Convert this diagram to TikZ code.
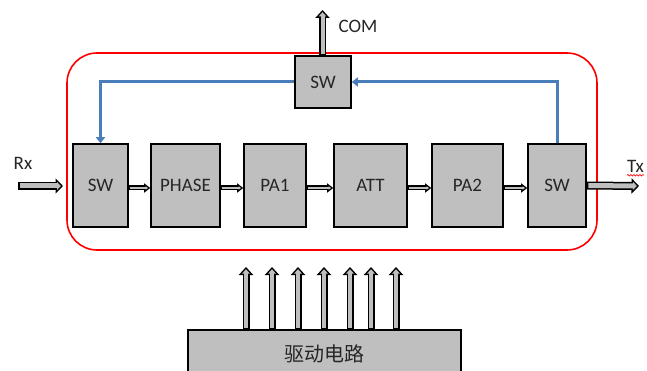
\documentclass[tikz,border=0pt]{standalone}
\usepackage{fontspec}
\setmainfont{Carlito}
\newfontfamily\cjk{Noto Sans CJK SC}
\usetikzlibrary{arrows.meta,decorations.pathmorphing}
\definecolor{boxgray}{HTML}{BFBFBF}
\definecolor{lineblue}{HTML}{4A7EBB}
\definecolor{textgray}{HTML}{262626}
\begin{document}
\begin{tikzpicture}[x=1pt,y=-1pt,
  font=\fontsize{19}{22}\selectfont,
  blk/.style={draw=black, line width=1.6pt, fill=boxgray, inner sep=0pt, text=textgray},
  lbl/.style={text=textgray, inner sep=0pt},
  harrow/.style n args={7}{draw=black, line width=#1, -{Triangle[length=#2, width=#3]},
    postaction={draw=boxgray, line width=#4, shorten <=1.5pt, shorten >=#7,
      -{Triangle[length=#5, width=#6]}}},
  bigarrow/.style={harrow={8pt}{7.5pt}{15pt}{5pt}{3.9pt}{7.8pt}{2.1pt}},
  smallarrow/.style={harrow={5pt}{6pt}{9pt}{1.8pt}{2.2pt}{3.3pt}{2.3pt}},
  midarrow/.style={harrow={7pt}{8pt}{14pt}{4pt}{4.3pt}{7.5pt}{2.2pt}},
  bluearrow/.style={draw=lineblue, line width=3pt, -{Triangle[length=6pt, width=9pt]}},
  redframe/.style={draw=red, line width=1.6pt, rounded corners=30pt}
]
\useasboundingbox (0,0) rectangle (647,371);

% red frame
\draw[redframe] (67,53) rectangle (597,250);

% blocks
\node[blk, minimum width=56pt, minimum height=52pt] (top) at (323,82) {SW};
\node[blk, minimum width=55pt, minimum height=83pt] (sw1) at (100.5,185.5) {SW};
\node[blk, minimum width=69pt, minimum height=83pt] (phase) at (185.5,185.5) {PHASE};
\node[blk, minimum width=62pt, minimum height=83pt] (pa1) at (275,185.5) {PA1};
\node[blk, minimum width=73pt, minimum height=83pt] (att) at (370.5,185.5) {ATT};
\node[blk, minimum width=71pt, minimum height=83pt] (pa2) at (467.5,185.5) {PA2};
\node[blk, minimum width=58pt, minimum height=83pt] (sw2) at (557,185.5) {SW};
\node[blk, minimum width=273pt, minimum height=52pt, anchor=north] (drv) at (324.5,329)
  {\raisebox{-6pt}[0pt][0pt]{\cjk\fontsize{20}{24}\selectfont 驱动电路}};

% labels
\node[lbl] (rx) at (23,163) {Rx};
\node[lbl] (tx) at (635.5,166) {Tx};
\node[lbl] (com) at (358,26.5) {COM};
\draw[red, line width=0.6pt, decorate, decoration={snake, amplitude=0.8pt, segment length=3pt}]
  (tx.south west) ++(0,3) -- ++(17,0);

% free-end coordinates
\coordinate (rxs) at (18,186);
\coordinate (rxe) at (63,186);
\coordinate (txe) at (639,186);
\coordinate (come) at (322.5,10);

% signal arrows
\draw[bigarrow] (rxs) -- (rxe);
\draw[smallarrow] ([yshift=-2.5pt]sw1.east) -- ([yshift=-2.5pt]phase.west);
\draw[smallarrow] ([yshift=-2.5pt]phase.east) -- ([yshift=-2.5pt]pa1.west);
\draw[smallarrow] ([yshift=-2.5pt]pa1.east) -- ([yshift=-2.5pt]att.west);
\draw[smallarrow] ([yshift=-2.5pt]att.east) -- ([yshift=-2.5pt]pa2.west);
\draw[smallarrow] ([yshift=-2.5pt]pa2.east) -- ([yshift=-2.5pt]sw2.west);
\draw[bigarrow] (sw2.east) -- (txe);
\draw[midarrow] (top.north -| come) -- (come);

% blue loop
\draw[bluearrow] (top.west) -| (sw1.north);
\draw[bluearrow] (sw2.north) |- (top.east);

% driver control arrows
\foreach \i/\xx in {1/246,2/272,3/298,4/324,5/350,6/371,7/396}{
  \coordinate (d\i) at (\xx,267);
  \draw[midarrow] (drv.north -| d\i) -- (d\i);
}
\end{tikzpicture}
\end{document}
